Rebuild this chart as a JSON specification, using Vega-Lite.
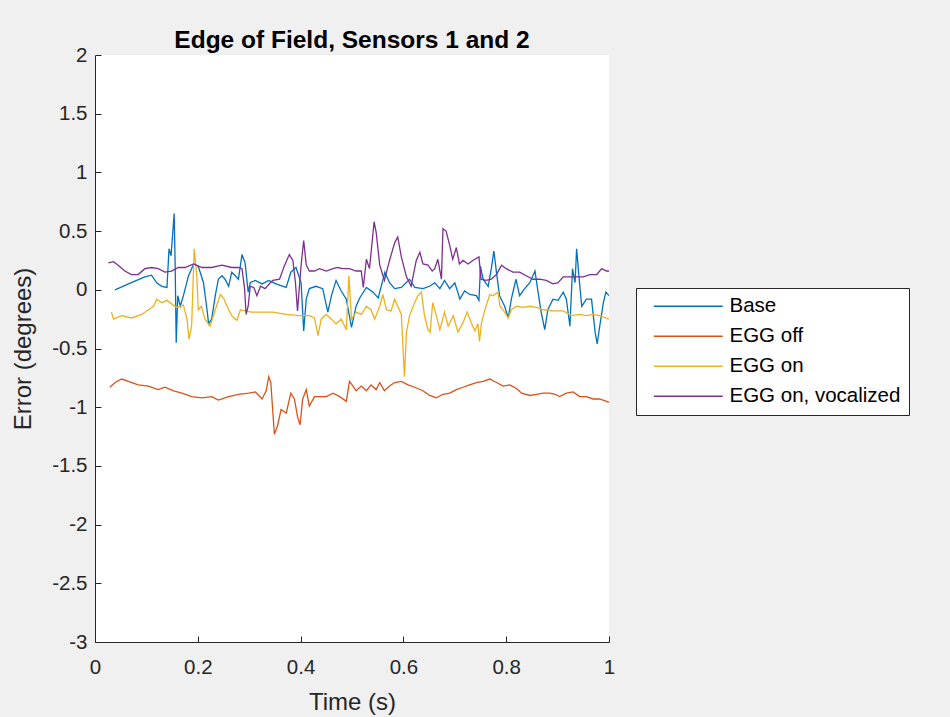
{
"$schema":"https://vega.github.io/schema/vega-lite/v6.json",
"autosize":{"type":"none"},
"padding":{"left":95,"top":55,"right":341,"bottom":75},
"width":514,"height":587,
"background":"#f0f0f0",
"config":{
 "view":{"fill":"white","stroke":null},
 "font":"Liberation Sans",
 "axis":{"grid":false,"domainColor":"#262626","tickColor":"#262626","tickSize":-6,"domainWidth":1,"tickWidth":1,"labelColor":"#262626","labelFontSize":20.5,"labelFont":"Liberation Sans","titleFont":"Liberation Sans","titleFontSize":24,"titleFontWeight":"normal","titleColor":"#262626","labelFlush":false,"labelOverlap":false}
},
"title":{"text":"Edge of Field, Sensors 1 and 2","fontSize":24.5,"font":"Liberation Sans","fontWeight":"bold","color":"#000","anchor":"middle","frame":"group","offset":-8},
"data":{"values":[
{"s":"Base","t":0.039,"v":0.0},{"s":"Base","t":0.065,"v":0.05},{"s":"Base","t":0.097,"v":0.11},{"s":"Base","t":0.11,"v":0.125},{"s":"Base","t":0.12,"v":0.06},{"s":"Base","t":0.13,"v":0.03},{"s":"Base","t":0.14,"v":0.02},{"s":"Base","t":0.144,"v":0.35},{"s":"Base","t":0.148,"v":0.29},{"s":"Base","t":0.154,"v":0.65},{"s":"Base","t":0.156,"v":0.2},{"s":"Base","t":0.158,"v":-0.45},{"s":"Base","t":0.161,"v":-0.05},{"s":"Base","t":0.166,"v":-0.14},{"s":"Base","t":0.172,"v":-0.05},{"s":"Base","t":0.182,"v":0.12},{"s":"Base","t":0.192,"v":0.22},{"s":"Base","t":0.201,"v":0.2},{"s":"Base","t":0.211,"v":0.06},{"s":"Base","t":0.218,"v":-0.17},{"s":"Base","t":0.221,"v":-0.29},{"s":"Base","t":0.227,"v":-0.25},{"s":"Base","t":0.234,"v":-0.05},{"s":"Base","t":0.24,"v":0.09},{"s":"Base","t":0.247,"v":0.12},{"s":"Base","t":0.253,"v":0.09},{"s":"Base","t":0.26,"v":0.03},{"s":"Base","t":0.266,"v":0.15},{"s":"Base","t":0.273,"v":0.12},{"s":"Base","t":0.279,"v":0.09},{"s":"Base","t":0.286,"v":0.3},{"s":"Base","t":0.292,"v":0.23},{"s":"Base","t":0.298,"v":-0.02},{"s":"Base","t":0.302,"v":0.06},{"s":"Base","t":0.312,"v":0.08},{"s":"Base","t":0.325,"v":0.05},{"s":"Base","t":0.338,"v":0.08},{"s":"Base","t":0.352,"v":0.05},{"s":"Base","t":0.372,"v":0.02},{"s":"Base","t":0.381,"v":0.15},{"s":"Base","t":0.391,"v":0.19},{"s":"Base","t":0.401,"v":0.06},{"s":"Base","t":0.406,"v":-0.35},{"s":"Base","t":0.411,"v":-0.08},{"s":"Base","t":0.417,"v":0.01},{"s":"Base","t":0.43,"v":0.03},{"s":"Base","t":0.443,"v":0.01},{"s":"Base","t":0.453,"v":-0.19},{"s":"Base","t":0.46,"v":-0.05},{"s":"Base","t":0.469,"v":0.08},{"s":"Base","t":0.479,"v":-0.01},{"s":"Base","t":0.489,"v":-0.08},{"s":"Base","t":0.499,"v":-0.32},{"s":"Base","t":0.508,"v":-0.14},{"s":"Base","t":0.515,"v":-0.07},{"s":"Base","t":0.528,"v":0.02},{"s":"Base","t":0.541,"v":-0.02},{"s":"Base","t":0.551,"v":-0.07},{"s":"Base","t":0.564,"v":0.15},{"s":"Base","t":0.573,"v":0.06},{"s":"Base","t":0.583,"v":0.01},{"s":"Base","t":0.596,"v":0.02},{"s":"Base","t":0.612,"v":0.09},{"s":"Base","t":0.622,"v":0.02},{"s":"Base","t":0.638,"v":0.01},{"s":"Base","t":0.651,"v":0.03},{"s":"Base","t":0.661,"v":0.06},{"s":"Base","t":0.671,"v":0.01},{"s":"Base","t":0.68,"v":0.08},{"s":"Base","t":0.69,"v":0.01},{"s":"Base","t":0.7,"v":0.06},{"s":"Base","t":0.71,"v":-0.08},{"s":"Base","t":0.719,"v":-0.01},{"s":"Base","t":0.729,"v":-0.04},{"s":"Base","t":0.742,"v":-0.05},{"s":"Base","t":0.747,"v":-0.09},{"s":"Base","t":0.75,"v":0.2},{"s":"Base","t":0.755,"v":0.09},{"s":"Base","t":0.765,"v":0.03},{"s":"Base","t":0.771,"v":0.18},{"s":"Base","t":0.776,"v":0.33},{"s":"Base","t":0.781,"v":0.15},{"s":"Base","t":0.787,"v":-0.05},{"s":"Base","t":0.797,"v":-0.14},{"s":"Base","t":0.804,"v":-0.24},{"s":"Base","t":0.81,"v":-0.08},{"s":"Base","t":0.819,"v":0.09},{"s":"Base","t":0.826,"v":-0.05},{"s":"Base","t":0.836,"v":0.01},{"s":"Base","t":0.846,"v":0.06},{"s":"Base","t":0.856,"v":0.16},{"s":"Base","t":0.862,"v":-0.02},{"s":"Base","t":0.868,"v":-0.19},{"s":"Base","t":0.875,"v":-0.34},{"s":"Base","t":0.881,"v":-0.17},{"s":"Base","t":0.891,"v":-0.08},{"s":"Base","t":0.901,"v":-0.09},{"s":"Base","t":0.911,"v":-0.02},{"s":"Base","t":0.917,"v":-0.08},{"s":"Base","t":0.924,"v":-0.31},{"s":"Base","t":0.929,"v":0.18},{"s":"Base","t":0.934,"v":0.06},{"s":"Base","t":0.937,"v":0.35},{"s":"Base","t":0.942,"v":0.09},{"s":"Base","t":0.947,"v":-0.14},{"s":"Base","t":0.956,"v":-0.08},{"s":"Base","t":0.966,"v":-0.08},{"s":"Base","t":0.973,"v":-0.36},{"s":"Base","t":0.977,"v":-0.46},{"s":"Base","t":0.982,"v":-0.31},{"s":"Base","t":0.989,"v":-0.11},{"s":"Base","t":0.994,"v":-0.02},{"s":"Base","t":1.0,"v":-0.05},
{"s":"EGG off","t":0.029,"v":-0.83},{"s":"EGG off","t":0.039,"v":-0.79},{"s":"EGG off","t":0.052,"v":-0.76},{"s":"EGG off","t":0.065,"v":-0.78},{"s":"EGG off","t":0.084,"v":-0.81},{"s":"EGG off","t":0.104,"v":-0.82},{"s":"EGG off","t":0.123,"v":-0.85},{"s":"EGG off","t":0.136,"v":-0.83},{"s":"EGG off","t":0.153,"v":-0.86},{"s":"EGG off","t":0.169,"v":-0.88},{"s":"EGG off","t":0.188,"v":-0.91},{"s":"EGG off","t":0.208,"v":-0.92},{"s":"EGG off","t":0.227,"v":-0.91},{"s":"EGG off","t":0.24,"v":-0.94},{"s":"EGG off","t":0.26,"v":-0.91},{"s":"EGG off","t":0.279,"v":-0.89},{"s":"EGG off","t":0.299,"v":-0.88},{"s":"EGG off","t":0.312,"v":-0.87},{"s":"EGG off","t":0.325,"v":-0.93},{"s":"EGG off","t":0.333,"v":-0.86},{"s":"EGG off","t":0.338,"v":-0.74},{"s":"EGG off","t":0.342,"v":-0.79},{"s":"EGG off","t":0.349,"v":-1.23},{"s":"EGG off","t":0.355,"v":-1.16},{"s":"EGG off","t":0.362,"v":-1.02},{"s":"EGG off","t":0.372,"v":-1.05},{"s":"EGG off","t":0.381,"v":-0.88},{"s":"EGG off","t":0.388,"v":-0.93},{"s":"EGG off","t":0.394,"v":-1.08},{"s":"EGG off","t":0.399,"v":-1.15},{"s":"EGG off","t":0.404,"v":-0.93},{"s":"EGG off","t":0.411,"v":-0.85},{"s":"EGG off","t":0.417,"v":-0.99},{"s":"EGG off","t":0.427,"v":-0.91},{"s":"EGG off","t":0.437,"v":-0.91},{"s":"EGG off","t":0.45,"v":-0.91},{"s":"EGG off","t":0.463,"v":-0.88},{"s":"EGG off","t":0.476,"v":-0.91},{"s":"EGG off","t":0.489,"v":-0.95},{"s":"EGG off","t":0.495,"v":-0.78},{"s":"EGG off","t":0.502,"v":-0.82},{"s":"EGG off","t":0.508,"v":-0.86},{"s":"EGG off","t":0.518,"v":-0.82},{"s":"EGG off","t":0.528,"v":-0.86},{"s":"EGG off","t":0.537,"v":-0.81},{"s":"EGG off","t":0.547,"v":-0.85},{"s":"EGG off","t":0.554,"v":-0.79},{"s":"EGG off","t":0.563,"v":-0.86},{"s":"EGG off","t":0.573,"v":-0.82},{"s":"EGG off","t":0.583,"v":-0.79},{"s":"EGG off","t":0.596,"v":-0.78},{"s":"EGG off","t":0.609,"v":-0.81},{"s":"EGG off","t":0.622,"v":-0.83},{"s":"EGG off","t":0.638,"v":-0.86},{"s":"EGG off","t":0.651,"v":-0.9},{"s":"EGG off","t":0.664,"v":-0.92},{"s":"EGG off","t":0.677,"v":-0.89},{"s":"EGG off","t":0.69,"v":-0.88},{"s":"EGG off","t":0.703,"v":-0.85},{"s":"EGG off","t":0.716,"v":-0.83},{"s":"EGG off","t":0.729,"v":-0.81},{"s":"EGG off","t":0.742,"v":-0.79},{"s":"EGG off","t":0.755,"v":-0.78},{"s":"EGG off","t":0.768,"v":-0.76},{"s":"EGG off","t":0.781,"v":-0.79},{"s":"EGG off","t":0.794,"v":-0.82},{"s":"EGG off","t":0.807,"v":-0.81},{"s":"EGG off","t":0.82,"v":-0.84},{"s":"EGG off","t":0.83,"v":-0.88},{"s":"EGG off","t":0.846,"v":-0.9},{"s":"EGG off","t":0.859,"v":-0.89},{"s":"EGG off","t":0.872,"v":-0.88},{"s":"EGG off","t":0.885,"v":-0.88},{"s":"EGG off","t":0.895,"v":-0.89},{"s":"EGG off","t":0.904,"v":-0.91},{"s":"EGG off","t":0.917,"v":-0.88},{"s":"EGG off","t":0.93,"v":-0.87},{"s":"EGG off","t":0.943,"v":-0.91},{"s":"EGG off","t":0.956,"v":-0.91},{"s":"EGG off","t":0.969,"v":-0.93},{"s":"EGG off","t":0.982,"v":-0.93},{"s":"EGG off","t":0.995,"v":-0.95},{"s":"EGG off","t":1.0,"v":-0.96},
{"s":"EGG on","t":0.032,"v":-0.19},{"s":"EGG on","t":0.036,"v":-0.25},{"s":"EGG on","t":0.052,"v":-0.22},{"s":"EGG on","t":0.071,"v":-0.24},{"s":"EGG on","t":0.091,"v":-0.21},{"s":"EGG on","t":0.104,"v":-0.17},{"s":"EGG on","t":0.114,"v":-0.14},{"s":"EGG on","t":0.12,"v":-0.08},{"s":"EGG on","t":0.13,"v":-0.11},{"s":"EGG on","t":0.14,"v":-0.09},{"s":"EGG on","t":0.149,"v":-0.12},{"s":"EGG on","t":0.159,"v":-0.15},{"s":"EGG on","t":0.172,"v":-0.13},{"s":"EGG on","t":0.179,"v":-0.25},{"s":"EGG on","t":0.183,"v":-0.42},{"s":"EGG on","t":0.188,"v":-0.31},{"s":"EGG on","t":0.193,"v":0.35},{"s":"EGG on","t":0.198,"v":0.12},{"s":"EGG on","t":0.201,"v":-0.17},{"s":"EGG on","t":0.207,"v":-0.14},{"s":"EGG on","t":0.214,"v":-0.25},{"s":"EGG on","t":0.224,"v":-0.31},{"s":"EGG on","t":0.234,"v":-0.17},{"s":"EGG on","t":0.244,"v":-0.04},{"s":"EGG on","t":0.25,"v":-0.07},{"s":"EGG on","t":0.26,"v":-0.17},{"s":"EGG on","t":0.266,"v":-0.22},{"s":"EGG on","t":0.276,"v":-0.26},{"s":"EGG on","t":0.283,"v":-0.17},{"s":"EGG on","t":0.292,"v":-0.18},{"s":"EGG on","t":0.305,"v":-0.19},{"s":"EGG on","t":0.325,"v":-0.19},{"s":"EGG on","t":0.346,"v":-0.19},{"s":"EGG on","t":0.372,"v":-0.21},{"s":"EGG on","t":0.398,"v":-0.22},{"s":"EGG on","t":0.417,"v":-0.22},{"s":"EGG on","t":0.427,"v":-0.24},{"s":"EGG on","t":0.434,"v":-0.39},{"s":"EGG on","t":0.44,"v":-0.25},{"s":"EGG on","t":0.45,"v":-0.21},{"s":"EGG on","t":0.46,"v":-0.25},{"s":"EGG on","t":0.469,"v":-0.29},{"s":"EGG on","t":0.479,"v":-0.25},{"s":"EGG on","t":0.489,"v":-0.34},{"s":"EGG on","t":0.494,"v":0.12},{"s":"EGG on","t":0.499,"v":-0.25},{"s":"EGG on","t":0.508,"v":-0.19},{"s":"EGG on","t":0.518,"v":-0.21},{"s":"EGG on","t":0.528,"v":-0.14},{"s":"EGG on","t":0.537,"v":-0.17},{"s":"EGG on","t":0.544,"v":-0.25},{"s":"EGG on","t":0.554,"v":-0.14},{"s":"EGG on","t":0.56,"v":-0.04},{"s":"EGG on","t":0.567,"v":-0.17},{"s":"EGG on","t":0.576,"v":-0.18},{"s":"EGG on","t":0.583,"v":-0.08},{"s":"EGG on","t":0.589,"v":-0.14},{"s":"EGG on","t":0.596,"v":-0.21},{"s":"EGG on","t":0.602,"v":-0.74},{"s":"EGG on","t":0.606,"v":-0.36},{"s":"EGG on","t":0.612,"v":-0.22},{"s":"EGG on","t":0.619,"v":-0.14},{"s":"EGG on","t":0.628,"v":-0.05},{"s":"EGG on","t":0.635,"v":-0.02},{"s":"EGG on","t":0.641,"v":-0.22},{"s":"EGG on","t":0.648,"v":-0.34},{"s":"EGG on","t":0.652,"v":-0.36},{"s":"EGG on","t":0.657,"v":-0.11},{"s":"EGG on","t":0.664,"v":-0.22},{"s":"EGG on","t":0.671,"v":-0.34},{"s":"EGG on","t":0.68,"v":-0.19},{"s":"EGG on","t":0.687,"v":-0.31},{"s":"EGG on","t":0.697,"v":-0.22},{"s":"EGG on","t":0.706,"v":-0.36},{"s":"EGG on","t":0.716,"v":-0.28},{"s":"EGG on","t":0.724,"v":-0.19},{"s":"EGG on","t":0.732,"v":-0.28},{"s":"EGG on","t":0.739,"v":-0.35},{"s":"EGG on","t":0.745,"v":-0.29},{"s":"EGG on","t":0.748,"v":-0.44},{"s":"EGG on","t":0.752,"v":-0.28},{"s":"EGG on","t":0.758,"v":-0.18},{"s":"EGG on","t":0.768,"v":-0.04},{"s":"EGG on","t":0.774,"v":-0.05},{"s":"EGG on","t":0.784,"v":-0.02},{"s":"EGG on","t":0.788,"v":-0.14},{"s":"EGG on","t":0.797,"v":-0.19},{"s":"EGG on","t":0.804,"v":-0.24},{"s":"EGG on","t":0.81,"v":-0.17},{"s":"EGG on","t":0.82,"v":-0.14},{"s":"EGG on","t":0.833,"v":-0.15},{"s":"EGG on","t":0.846,"v":-0.14},{"s":"EGG on","t":0.859,"v":-0.15},{"s":"EGG on","t":0.872,"v":-0.17},{"s":"EGG on","t":0.891,"v":-0.18},{"s":"EGG on","t":0.911,"v":-0.18},{"s":"EGG on","t":0.927,"v":-0.22},{"s":"EGG on","t":0.943,"v":-0.21},{"s":"EGG on","t":0.956,"v":-0.22},{"s":"EGG on","t":0.969,"v":-0.21},{"s":"EGG on","t":0.982,"v":-0.22},{"s":"EGG on","t":1.0,"v":-0.25},
{"s":"EGG on, vocalized","t":0.026,"v":0.23},{"s":"EGG on, vocalized","t":0.036,"v":0.24},{"s":"EGG on, vocalized","t":0.045,"v":0.21},{"s":"EGG on, vocalized","t":0.058,"v":0.16},{"s":"EGG on, vocalized","t":0.071,"v":0.13},{"s":"EGG on, vocalized","t":0.084,"v":0.13},{"s":"EGG on, vocalized","t":0.097,"v":0.18},{"s":"EGG on, vocalized","t":0.11,"v":0.19},{"s":"EGG on, vocalized","t":0.123,"v":0.18},{"s":"EGG on, vocalized","t":0.136,"v":0.15},{"s":"EGG on, vocalized","t":0.149,"v":0.16},{"s":"EGG on, vocalized","t":0.162,"v":0.19},{"s":"EGG on, vocalized","t":0.175,"v":0.19},{"s":"EGG on, vocalized","t":0.192,"v":0.22},{"s":"EGG on, vocalized","t":0.208,"v":0.19},{"s":"EGG on, vocalized","t":0.227,"v":0.19},{"s":"EGG on, vocalized","t":0.247,"v":0.21},{"s":"EGG on, vocalized","t":0.266,"v":0.19},{"s":"EGG on, vocalized","t":0.279,"v":0.19},{"s":"EGG on, vocalized","t":0.286,"v":0.18},{"s":"EGG on, vocalized","t":0.291,"v":0.01},{"s":"EGG on, vocalized","t":0.294,"v":-0.21},{"s":"EGG on, vocalized","t":0.298,"v":-0.14},{"s":"EGG on, vocalized","t":0.302,"v":0.03},{"s":"EGG on, vocalized","t":0.309,"v":0.02},{"s":"EGG on, vocalized","t":0.315,"v":-0.05},{"s":"EGG on, vocalized","t":0.322,"v":0.03},{"s":"EGG on, vocalized","t":0.331,"v":0.01},{"s":"EGG on, vocalized","t":0.341,"v":0.06},{"s":"EGG on, vocalized","t":0.346,"v":0.08},{"s":"EGG on, vocalized","t":0.359,"v":0.09},{"s":"EGG on, vocalized","t":0.369,"v":0.21},{"s":"EGG on, vocalized","t":0.378,"v":0.3},{"s":"EGG on, vocalized","t":0.385,"v":0.25},{"s":"EGG on, vocalized","t":0.39,"v":0.06},{"s":"EGG on, vocalized","t":0.394,"v":-0.18},{"s":"EGG on, vocalized","t":0.401,"v":0.21},{"s":"EGG on, vocalized","t":0.406,"v":0.42},{"s":"EGG on, vocalized","t":0.411,"v":0.21},{"s":"EGG on, vocalized","t":0.417,"v":0.16},{"s":"EGG on, vocalized","t":0.427,"v":0.16},{"s":"EGG on, vocalized","t":0.437,"v":0.18},{"s":"EGG on, vocalized","t":0.45,"v":0.16},{"s":"EGG on, vocalized","t":0.463,"v":0.18},{"s":"EGG on, vocalized","t":0.472,"v":0.19},{"s":"EGG on, vocalized","t":0.482,"v":0.18},{"s":"EGG on, vocalized","t":0.495,"v":0.18},{"s":"EGG on, vocalized","t":0.508,"v":0.16},{"s":"EGG on, vocalized","t":0.518,"v":0.16},{"s":"EGG on, vocalized","t":0.522,"v":0.02},{"s":"EGG on, vocalized","t":0.528,"v":0.26},{"s":"EGG on, vocalized","t":0.534,"v":0.18},{"s":"EGG on, vocalized","t":0.543,"v":0.58},{"s":"EGG on, vocalized","t":0.547,"v":0.49},{"s":"EGG on, vocalized","t":0.554,"v":0.21},{"s":"EGG on, vocalized","t":0.563,"v":0.08},{"s":"EGG on, vocalized","t":0.573,"v":0.25},{"s":"EGG on, vocalized","t":0.583,"v":0.4},{"s":"EGG on, vocalized","t":0.589,"v":0.45},{"s":"EGG on, vocalized","t":0.596,"v":0.28},{"s":"EGG on, vocalized","t":0.606,"v":0.11},{"s":"EGG on, vocalized","t":0.615,"v":0.03},{"s":"EGG on, vocalized","t":0.625,"v":0.25},{"s":"EGG on, vocalized","t":0.632,"v":0.32},{"s":"EGG on, vocalized","t":0.638,"v":0.22},{"s":"EGG on, vocalized","t":0.648,"v":0.21},{"s":"EGG on, vocalized","t":0.656,"v":0.16},{"s":"EGG on, vocalized","t":0.661,"v":0.18},{"s":"EGG on, vocalized","t":0.667,"v":0.26},{"s":"EGG on, vocalized","t":0.674,"v":0.09},{"s":"EGG on, vocalized","t":0.677,"v":0.52},{"s":"EGG on, vocalized","t":0.683,"v":0.5},{"s":"EGG on, vocalized","t":0.69,"v":0.38},{"s":"EGG on, vocalized","t":0.696,"v":0.26},{"s":"EGG on, vocalized","t":0.703,"v":0.36},{"s":"EGG on, vocalized","t":0.709,"v":0.22},{"s":"EGG on, vocalized","t":0.716,"v":0.25},{"s":"EGG on, vocalized","t":0.726,"v":0.22},{"s":"EGG on, vocalized","t":0.735,"v":0.25},{"s":"EGG on, vocalized","t":0.747,"v":0.28},{"s":"EGG on, vocalized","t":0.751,"v":0.09},{"s":"EGG on, vocalized","t":0.761,"v":0.08},{"s":"EGG on, vocalized","t":0.771,"v":0.09},{"s":"EGG on, vocalized","t":0.781,"v":0.13},{"s":"EGG on, vocalized","t":0.791,"v":0.21},{"s":"EGG on, vocalized","t":0.8,"v":0.18},{"s":"EGG on, vocalized","t":0.813,"v":0.15},{"s":"EGG on, vocalized","t":0.826,"v":0.15},{"s":"EGG on, vocalized","t":0.839,"v":0.12},{"s":"EGG on, vocalized","t":0.852,"v":0.09},{"s":"EGG on, vocalized","t":0.865,"v":0.09},{"s":"EGG on, vocalized","t":0.878,"v":0.08},{"s":"EGG on, vocalized","t":0.891,"v":0.05},{"s":"EGG on, vocalized","t":0.901,"v":0.06},{"s":"EGG on, vocalized","t":0.911,"v":0.11},{"s":"EGG on, vocalized","t":0.924,"v":0.11},{"s":"EGG on, vocalized","t":0.937,"v":0.11},{"s":"EGG on, vocalized","t":0.95,"v":0.11},{"s":"EGG on, vocalized","t":0.963,"v":0.13},{"s":"EGG on, vocalized","t":0.976,"v":0.13},{"s":"EGG on, vocalized","t":0.986,"v":0.18},{"s":"EGG on, vocalized","t":0.995,"v":0.16},{"s":"EGG on, vocalized","t":1.0,"v":0.16}
]},
"mark":{"type":"line","strokeWidth":1.3,"clip":true},
"encoding":{
 "x":{"field":"t","type":"quantitative","scale":{"domain":[0,1],"nice":false,"zero":false},"axis":{"title":"Time (s)","values":[0,0.2,0.4,0.6,0.8,1],"labelExpr":"'' + datum.value","labelPadding":21,"titlePadding":13}},
 "y":{"field":"v","type":"quantitative","scale":{"domain":[-3,2],"nice":false,"zero":false},"axis":{"title":"Error (degrees)","values":[-3,-2.5,-2,-1.5,-1,-0.5,0,0.5,1,1.5,2],"labelExpr":"'' + datum.value","labelPadding":14,"titlePadding":16}},
 "color":{"field":"s","type":"nominal","scale":{"domain":["Base","EGG off","EGG on","EGG on, vocalized"],"range":["#0072BD","#D95319","#EDB120","#7E2F8E"]},
  "legend":{"orient":"none","legendX":541,"legendY":233,"title":null,"symbolType":"M-7,0H7","symbolSize":97,"symbolStrokeWidth":1.3,"symbolOffset":34,"labelOffset":31,"labelFontSize":20.5,"labelFont":"Liberation Sans","labelColor":"#000","labelLimit":400,"fillColor":"white","strokeColor":"#262626","padding":8,"rowPadding":9}},
 "order":{"field":"t","type":"quantitative"}
}
}
